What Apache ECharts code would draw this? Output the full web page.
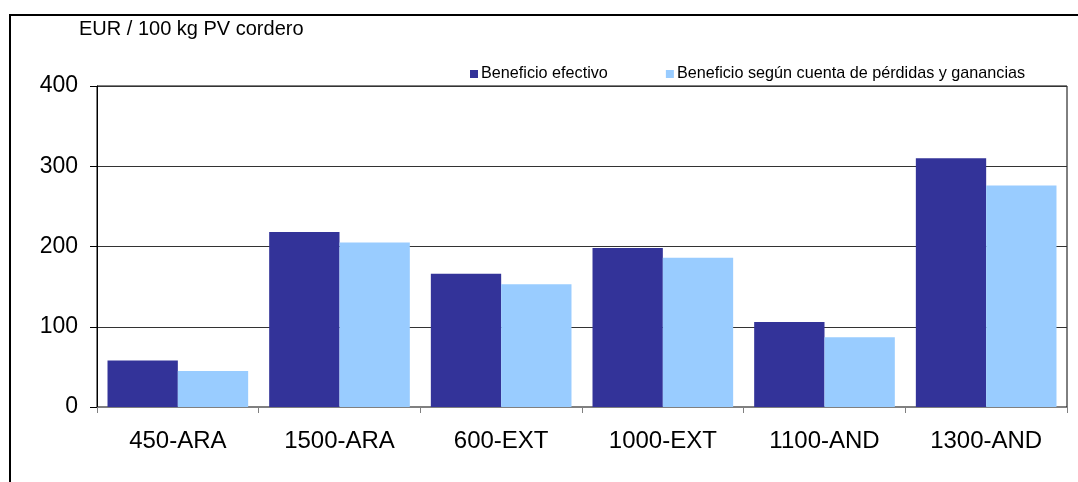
<!DOCTYPE html>
<html>
<head>
<meta charset="utf-8">
<script src="https://cdn.jsdelivr.net/npm/echarts@6/dist/echarts.min.js"></script>
<style>
html,body{margin:0;padding:0;background:#fff;}
#chart{width:1078px;height:482px;}
</style>
</head>
<body>
<div id="chart"></div>
<script>
const categories = ['450-ARA', '1500-ARA', '600-EXT', '1000-EXT', '1100-AND', '1300-AND'];
const seriesNames = ['Beneficio efectivo', 'Beneficio según cuenta de pérdidas y ganancias'];
const beneficioEfectivo = [58, 218, 166, 198, 106, 310];
const beneficioPyG = [45, 205, 153, 186, 87, 276];
const yTicks = { min: 0, max: 400, interval: 100 };
const unitLabel = 'EUR / 100 kg PV cordero';

const chart = echarts.init(document.getElementById('chart'), null, { renderer: 'canvas' });
const FONT = '"Liberation Sans", Arial, sans-serif';
chart.setOption({
  animation: false,
  backgroundColor: '#fff',
  graphic: [
    { type: 'rect', shape: { x: 10, y: 15, width: 2000, height: 2000 }, style: { fill: 'none', stroke: '#000', lineWidth: 2 }, silent: true, z: 0 },
    { type: 'text', left: 79, top: 19, style: { text: unitLabel, font: '20px ' + FONT, fill: '#000' } }
  ],
  legend: {
    left: 465, top: 61,
    itemWidth: 8, itemHeight: 8, itemGap: 58,
    icon: 'rect',
    textStyle: { fontFamily: FONT, fontSize: 16.2, color: '#000', padding: [0, 0, 0, -2] },
    data: seriesNames
  },
  grid: { left: 97, right: 11, top: 86, bottom: 75, show: true, borderColor: '#000', borderWidth: 1 },
  xAxis: {
    type: 'category',
    data: categories,
    axisLine: { lineStyle: { color: '#808080', width: 1 } },
    axisTick: { show: true, length: 6, lineStyle: { color: '#808080' } },
    axisLabel: { fontFamily: FONT, fontSize: 24, color: '#000', margin: 22 }
  },
  yAxis: {
    type: 'value',
    min: yTicks.min, max: yTicks.max, interval: yTicks.interval,
    axisLine: { show: true, lineStyle: { color: '#000', width: 1 } },
    axisTick: { show: true, length: 7, lineStyle: { color: '#000' } },
    axisLabel: { fontFamily: FONT, fontSize: 23, color: '#000', margin: 19 },
    splitLine: { show: true, lineStyle: { color: '#333', width: 1 } }
  },
  series: [
    { name: seriesNames[0], type: 'bar', data: beneficioEfectivo, itemStyle: { color: '#333399' }, barGap: '0%', barCategoryGap: '13%' },
    { name: seriesNames[1], type: 'bar', data: beneficioPyG, itemStyle: { color: '#99CCFF' }, barGap: '0%', barCategoryGap: '13%' }
  ]
});
</script>
</body>
</html>
